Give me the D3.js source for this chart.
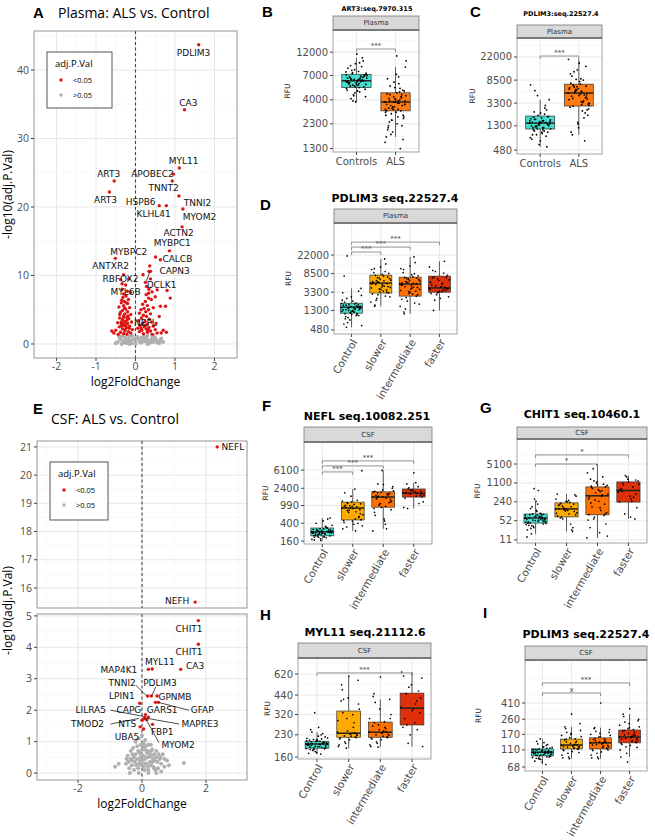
<!DOCTYPE html>
<html>
<head>
<meta charset='utf-8'>
<script src="https://d3js.org/d3.v7.min.js"></script>
<style>
body { margin: 0; background: #fff; }
text { font-family: "DejaVu Sans", sans-serif; }
</style>
</head>
<body>
<script>
// ---------- volcano data (log2FC, -log10 adj p) ----------
var aRed = [[1.6,43.7],[1.24,34.2],[1.11,25.7],[0.96,24.8],[0.93,23.8],[-0.54,23.8],[-0.66,22.2],[1.1,21.6],[0.6,20.2],[0.78,20.2],[1.2,19.7],[1.18,17.1],[0.86,13.6],[-0.51,12.5],[0.51,12.7],[0.63,12.3],
  [0.36,11.4],[0.34,10.6],[0.38,10.6],[0.19,10.1],[-0.3,10.1],[-0.38,9.4],[-0.17,9.5],[0.38,9.5],[0.25,9.0],[-0.34,8.8],[-0.25,8.6],[0.28,8.4],[0.34,8.0],[0.8,7.8],[-0.34,8.0],[-0.21,7.7],[-0.13,7.5],[0.33,7.4],[0.42,7.6],[0.27,7.2],[0.55,7.9],[0.88,6.7],[0.63,5.5],[0.76,5.5],[0.33,6.7],[0.25,6.2],[0.4,6.5],[0.5,6.9],[0.18,5.8],[0.3,5.6],[0.22,5.2],
  [-0.24,7.0],[-0.32,6.8],[-0.18,6.5],[-0.28,6.2],[-0.36,6.0],[-0.2,5.9],[-0.3,5.6],[-0.42,5.4],[-0.15,5.3],[-0.25,5.1],[-0.33,4.9],[-0.2,4.7],[-0.38,4.6],[-0.27,4.4],[-0.12,4.3],[-0.3,4.1],[-0.22,3.9],[-0.4,3.8],[-0.17,3.7],[-0.33,3.5],[-0.26,3.3],[-0.1,3.2],[-0.45,3.1],[-0.2,3.0],[-0.36,2.9],[-0.29,2.7],[-0.15,2.6],[-0.41,2.5],[-0.23,2.4],[-0.33,2.2],[-0.08,2.1],[-0.5,2.0],[-0.27,1.9],[-0.18,1.8],[-0.38,1.7],[-0.55,1.6],[-0.12,1.6],[-0.3,1.5],[-0.22,1.4],[-0.44,1.4],[-0.6,1.9],[-0.35,2.6],[-0.24,2.8],[-0.31,3.8],[-0.19,4.1],[-0.4,4.3],[-0.28,5.3],[-0.35,6.4],[-0.23,6.0],[-0.3,7.3],[-0.26,2.1],[-0.36,3.2],[-0.16,2.3],[-0.3,3.0],[-0.21,3.5],
  [0.1,4.5],[0.2,4.2],[0.28,4.0],[0.15,3.8],[0.35,3.6],[0.08,3.4],[0.24,3.3],[0.4,3.2],[0.18,3.0],[0.3,2.9],[0.12,2.7],[0.45,2.6],[0.22,2.5],[0.34,2.4],[0.06,2.3],[0.27,2.2],[0.5,2.1],[0.16,2.0],[0.38,1.9],[0.1,1.8],[0.3,1.7],[0.55,1.6],[0.2,1.5],[0.42,1.4],[0.65,1.6],[0.33,5.0],[0.45,5.3],[0.26,4.7],[0.38,4.4],[0.14,5.0],[0.6,4.0],[0.52,3.0],[0.7,2.0],[0.78,1.7],[0.25,2.7],[0.14,2.3],[0.32,2.0]];
var aGray = [[-0.45,0.3],[-0.38,0.6],[-0.3,0.2],[-0.25,0.9],[-0.2,0.4],[-0.15,1.1],[-0.1,0.1],[-0.05,0.7],[0.0,0.3],[0.05,1.0],[0.1,0.5],[0.15,0.2],[0.2,0.8],[0.25,0.4],[0.3,1.2],[0.35,0.1],[0.4,0.6],[0.45,0.3],[0.5,0.9],[0.55,0.2],[0.62,0.5],[0.7,0.3],[-0.33,1.1],[-0.4,0.9],[-0.22,0.1],[-0.12,0.5],[0.02,0.9],[0.12,0.2],[0.22,1.1],[0.32,0.5],[0.42,0.9],[0.52,0.6],[-0.28,0.5],[-0.18,0.7],[-0.08,1.2],[0.08,0.7],[0.18,0.4],[0.28,0.8],[0.38,0.3],[0.48,0.5],[-0.5,0.1],[0.6,0.1],[0.65,0.8],[-0.35,0.0],[0.0,0.0],[0.3,0.0],[-0.15,0.0],[0.15,0.9],[-0.42,1.2],[0.46,1.3]];
var aLabels = [["PDLIM3",1.47,42.5],["CA3",1.34,35.2],["MYL11",1.22,26.7],["APOBEC2",0.43,24.8],["TNNT2",0.71,22.8],["ART3",-0.68,24.8],["ART3",-0.76,21.0],["HSPB6",0.13,20.7],["TNNI2",1.57,20.6],["KLHL41",0.46,19.0],["MYOM2",1.62,18.5],["ACTN2",1.09,16.2],["MYBPC1",0.93,14.7],["MYBPC2",-0.17,13.4],["CALCB",1.06,12.4],["ANTXR2",-0.63,11.4],["CAPN3",0.99,10.7],["RBFOX2",-0.38,9.5],["DCLK1",0.66,8.6],["MYL6B",-0.25,7.6],["NEFL",0.25,3.1]];
var aSegs = [[0.28,9.2,0.36,10.55]];
var aXTicks = [-2,-1,0,1,2];
var aYTicks = [0,10,20,30,40];

var eRed = [[2.35,21.0],[1.66,15.5],[1.76,4.85],[1.76,4.1],[1.21,3.3],[0.2,3.3],[0.32,3.31],[0.18,2.45],[0.29,2.45],[0.47,2.45],[-0.07,2.22],[0.42,2.25],[0.51,2.25],[0.11,1.86],[0.1,1.75],[0.15,1.7],[0.2,1.78],[0.05,1.72],[0.0,1.68],[-0.06,1.47],[0.05,1.4],[0.33,1.55]];
var eGray = [[-0.84,0.2],[-0.73,0.3],[1.31,0.32],[-0.5,0.3],[-0.45,0.55],[-0.4,0.15],[-0.35,0.7],[-0.3,0.4],[-0.25,0.1],[-0.2,0.6],[-0.15,0.85],[-0.1,0.3],[-0.05,0.5],[0.0,0.75],[0.05,0.2],[0.1,0.45],[0.15,0.65],[0.2,0.1],[0.25,0.35],[0.3,0.55],[0.35,0.2],[0.4,0.4],[0.45,0.7],[0.5,0.15],[0.55,0.45],[0.6,0.3],[0.65,0.6],[0.7,0.2],[0.78,0.4],[0.84,0.25],[-0.42,0.35],[-0.28,0.8],[-0.18,0.25],[-0.08,0.65],[0.02,0.4],[0.12,0.85],[0.22,0.5],[0.32,0.75],[0.42,0.1],[0.52,0.6],[-0.2,1.0],[-0.1,1.1],[0.0,1.2],[0.1,1.05],[0.05,0.95],[-0.38,0.0],[-0.1,0.0],[0.2,0.0],[0.45,0.0],[0.6,0.05],[-0.25,0.5],[0.28,0.9],[0.38,0.6],[-0.32,0.25],[0.15,0.3],
  [-0.22,0.35],[-0.12,0.15],[-0.02,0.25],[0.08,0.1],[0.18,0.2],[0.28,0.25],[0.38,0.15],[0.48,0.35],[-0.16,0.45],[-0.06,0.4],[0.04,0.55],[0.14,0.5],[0.24,0.6],[0.34,0.45],[-0.12,0.7],[-0.02,0.6],[0.08,0.75],[0.18,0.7],[0.28,0.7],[-0.04,0.9],[0.06,0.85],[0.2,0.9],[-0.3,0.6],[0.44,0.5],[0.58,0.5],[-0.48,0.45],[0.7,0.45],[0.1,0.3],[-0.36,0.45],[0.32,0.35]];
var eLabels = [["NEFL",2.84,21.0],["NEFH",1.1,15.55],["CHIT1",1.47,4.59],["CHIT1",1.47,3.85],["CA3",1.66,3.41],["MYL11",0.56,3.54],["MAP4K1",-0.72,3.28],["TNNI2",-0.62,2.87],["PDLIM3",0.56,2.87],["LPIN1",-0.63,2.45],["GPNMB",1.03,2.42],["LILRA5",-1.6,2.0],["CAPG",-0.41,2.0],["GARS1",0.63,2.0],["GFAP",1.88,2.0],["TMOD2",-1.7,1.56],["NTS",-0.46,1.56],["MAPRE3",1.81,1.56],["FBP1",0.63,1.31],["UBA5",-0.47,1.15],["MYOM2",1.13,0.89]];
var eSegs = [[-0.2,2.8,0.17,2.43],[0.43,2.74,0.3,2.45],[-0.98,2.0,0.11,1.79],[1.47,2.0,0.51,2.25],[1.16,1.56,0.17,1.74],[-0.98,1.56,-0.09,1.74],[0.53,0.97,0.11,1.74]];
var eXTicks = [-2,0,2];
var eYTicksTop = [16,17,18,19,20,21];
var eYTicksBot = [0,1,2,3,4,5];

// ---------- box plot data (RFU) ----------
var catsTwo = ["Controls","ALS"];
var catsFour = ["Control","slower","intermediate","faster"];

var bTicks = [1300,2300,4000,7000,12000];
var bBox = [[5300,6200,7200],[3100,3800,4700]];
var bCtrl = [6200,5800,6500,7000,5400,6100,6900,5600,7400,6300,5900,6700,8000,5200,4800,6400,7100,5700,6000,8600,4500,6600,7700,5500,6200,9200,5000,6800,7300,4300,6100,5800,10500,6400,7600,5300,4100,6900,5900,8300,6300,3900,7200,5600,6700,9800,4700,6000,6500,7900,5100,11500,5800,6200,4400,7000,6400,8800,5400,3800,6600,6100,7500,5700,4900,6800,6300,5500,7100,9400];
var bAls = [3800,3200,4500,2800,4100,3600,5200,2500,3900,4700,3300,2200,4300,3000,5800,3500,2700,4000,6500,3100,1900,4400,3700,2400,5000,3400,1700,4800,2900,3600,7200,2100,4200,3200,1500,3900,5500,2600,3800,4600,1300,3300,8500,2300,4100,3500,6000,2800,3700,1800,4900,3000,2000,4300,3400,9800,2700,3900,1600,5300,3100,4000,2500,3600,11000,2200,4500,3800,3200,6800];
var bSig = [[0,1,12900,"***"]];

var cTicks = [480,1300,3300,8500,22000];
var cBox = [[1140,1455,1940],[2930,5000,7200]];
var cCtrl = [1450,1200,1700,1000,1550,1300,2100,900,1400,1800,1100,2500,1350,800,1600,1250,1900,700,1500,3000,1150,1650,950,2300,1400,600,1750,1050,1300,3800,1500,1200,850,2000,1600,1100,5500,1350,1450,750,2700,1250,1550,1000,1850,550,1400,7000,1200,1700,1300,2200,900,1500,4500,1150,1600,1050,1900,1350];
var cAls = [5000,3500,7000,4200,6000,2800,8500,5500,3200,4800,10000,2200,6500,3800,5200,12000,2500,4500,7500,1800,5800,3000,9000,4000,15000,1500,6200,3400,5100,2000,8000,4400,700,5600,20000,3100,6800,4700,1200,11000,3600,5300,2600,7200,900,4100,13000,5900,2400,6400,3900,17000,1000,4600,8800,3300,5400,2900,6600,1400];
var cSig = [[0,1,22900,"***"]];

var dTicks = [480,1300,3300,8500,22000];
var dBox = [[1130,1540,1880],[3160,5250,7900],[2700,5000,7100],[3300,4100,7500]];
var dCtrl = [1500,1200,1700,1000,1600,1350,1900,900,1450,2100,1100,1550,800,1250,1800,2400,1400,1050,650,1650,1300,2800,1500,950,1750,1150,3200,1400,700,1600,1250,2000,1050,1500,1850,1200,550,1350,2600,1700,1000,1450,4000,1300,850,1600,1150,2200,1400,21000,1550,1250,7500,1100,1750,600,1500,1350,3500,1200];
var dSlow = [5200,3500,7800,4400,6300,3000,9500,5600,2600,4800,11000,3300,6800,4100,5900,2200,8600,3800,5300,14000,2900,6100,4600,1700,7200,3400,5000,18000,2400,6600,4300,9000,3700,5500,2000,7500,4900,3200,12000,5700,2700,6900,4200,8200,1600,5100,3900,10500,4500,6000];
var dInt = [5000,3000,7000,4200,6000,2300,8500,5400,1800,4600,10500,2700,6400,3600,5200,1400,7600,3300,4800,15000,2100,5800,4100,1100,6800,3100,4700,20000,2500,6200,3900,9000,3500,5500,1600,7300,4400,2900,12500,5300,1900,6600,3800,8000,1200,5100,3400,11000,4300,5700];
var dFast = [4100,3400,7200,3900,6000,3100,8800,4600,2600,4300,10000,3600,6500,3800,5200,2200,7800,3500,4800,16000,2900,6200,4400,1300,7000,3300,5500,3700,9500,4000,2400,6800,4200,3200,12000,5000];
var dSig = [[0,1,25600,"***"],[0,2,33000,"***"],[0,3,42600,"***"]];

var fTicks = [160,400,990,2400,6100];
var fBox = [[210,257,313],[473,870,1180],[910,1530,2000],[1530,1870,2310]];
var fCtrl = [260,230,290,210,275,245,320,195,250,300,220,265,180,240,340,205,280,255,170,310,235,265,200,400,250,225,290,190,270,245,450,215,260,300,175,235,280,520,250,210,265,230,360,200,245,285,165,255,330,220,270,240,195,500,260];
var fSlow = [870,500,1150,650,950,420,1300,780,350,1050,900,560,1600,300,720,1100,480,850,1900,400,980,620,2300,330,800,1200,460,930,700,5900,380,1000,540,880,1250,270,760,1080,440,960];
var fInt = [1550,950,1900,1200,2200,700,1700,1050,2600,450,1400,1850,900,2000,300,1600,1250,2900,600,1750,1100,2100,380,1500,1350,6000,850,1800,1000,2400,500,1650,1150,1950,270,1450,3000,800,1550,2050];
var fFast = [1900,1600,2300,1750,2100,1450,2600,1800,1200,2000,3000,1650,2200,900,1850,2450,1550,5300,1950,1100,2150,1700,3200,850,2050];
var fSig = [[0,1,5540,"***"],[0,2,7540,"***"],[0,3,9740,"***"]];

var gTicks = [11,52,240,1100,5100];
var gBox = [[43,65,90],[71,135,220],[84,390,800],[235,600,1200]];
var gCtrl = [65,50,85,40,72,58,95,35,62,110,45,68,30,80,55,140,48,75,25,60,90,42,200,66,52,300,38,70,18,57,120,47,78,33,64,600,44,88,53,14,69,160,49,82,36,61,700,46,74,28,58,250,43,92,55];
var gSlow = [135,90,210,110,250,75,160,60,380,120,190,30,140,95,230,70,420,130,180,25,150,100,270,65,200,115,450,40,170,85,240,140,22,125,300];
var gInt = [400,150,750,90,1200,300,600,60,900,250,1500,80,500,2500,120,700,40,950,350,1800,70,450,20,850,200,1100,55,380,3500,100,650,30,1000,280,13,550,160,800,4800,85,420,1300,15,600,220];
var gFast = [600,300,1100,450,1500,240,800,90,1300,380,700,60,1800,520,250,950,150,1200,650,350,2000,1000,70,560,1400];
var gSig = [[0,2,5100,"*"],[0,3,10600,"*"]];

var hTicks = [160,230,320,440,620];
var hBox = [[185,198,207],[221,236,339],[221,240,283],[270,355,454]];
var hCtrl = [198,190,205,185,210,195,215,180,200,225,188,203,175,208,196,240,192,212,170,201,186,218,197,250,183,206,194,230,178,202,189,211,199,330,184,207,193,222,172,200,187,213,196,260,181,204,191,217,168,199,186,209,195,235,182];
var hSlow = [240,225,330,230,420,215,260,205,380,232,520,222,300,190,236,410,228,600,218,280,200,350,234,480,220,245,195,320,226,560,212,400,238,185,290];
var hInt = [240,225,280,232,350,218,260,205,300,236,430,222,270,195,245,390,228,590,215,255,200,320,238,450,220,250,190,285,230,410,212,265,242,188,300];
var hFast = [360,280,450,330,520,260,400,200,580,350,300,470,230,640,380,270,420,340,600,250,500,190];
var hSig = [[0,3,631,"***"]];

var iTicks = [68,110,170,260,410];
var iBox = [[93,103,113],[113,126,149],[113,134,154],[134,158,192]];
var iCtrl = [103,98,110,92,106,100,115,88,104,120,95,108,84,112,101,130,97,109,80,105,93,118,102,140,90,107,99,125,86,104,96,111,100,150,89,106,94,116,78,103,91,113,98,135,87,105,95,110,73,101,92,119,100,128,85];
var iSlow = [126,115,148,120,170,110,135,100,190,122,210,113,155,95,128,180,118,300,108,140,90,160,124,200,112,132,88,150,119,230,105,145,127,86,165,116,138,102,175,121];
var iInt = [134,118,152,125,175,112,140,100,195,130,200,115,158,95,136,185,120,410,108,145,90,165,132,205,114,138,88,150,128,180,104,147,135,86,170,122,142,110,160,126];
var iFast = [158,140,190,150,230,132,170,120,260,155,300,138,200,110,162,240,145,350,128,180,100,210,160,280,135,175,90,195,152,250,125,185,165,78,220,142,168,118,205,148];
var iSig = [[0,2,543,"x"],[0,3,720,"***"]];

// ---------- drawing ----------
var width = 655, height = 840;
var svg = d3.select('body').append('svg').attr('width', width).attr('height', height);
var TICKCOL = '#4d4d4d';
var colTwo = ['#40E0D0', '#FF7A10'];
var colFour = ['#40E0D0', '#FFAA00', '#FF7000', '#E0300A'];
var clipN = 0;

function mids(t) {
  var s = t[1] - t[0], a = [t[0] - s / 2];
  for (var i = 0; i < t.length - 1; i++) a.push((t[i] + t[i + 1]) / 2);
  a.push(t[t.length - 1] + s / 2);
  return a;
}
function clip(x, y, w, h) {
  var id = 'clp' + (clipN++);
  svg.append('clipPath').attr('id', id).append('rect').attr('x', x).attr('y', y).attr('width', w).attr('height', h);
  return 'url(#' + id + ')';
}
function letter(s, x, y) {
  svg.append('text').attr('x', x).attr('y', y).text(s)
    .style('font-family', '"Liberation Sans", Arial, sans-serif').style('font-weight', 'bold').style('font-size', '15px');
}

function volcano(o) {
  var x = d3.scaleLinear().domain(o.xDomain).range([o.x0, o.x1]);
  o.panels.forEach(function(p, pi) {
    var y = d3.scaleLinear().domain(p.yDomain).range([p.y1, p.y0]);
    var inP = function(d) { return d[1] >= p.yDomain[0] && d[1] <= p.yDomain[1]; };
    svg.append('rect').attr('x', o.x0).attr('y', p.y0).attr('width', o.x1 - o.x0).attr('height', p.y1 - p.y0).attr('fill', '#fff');
    var g = svg.append('g').attr('clip-path', clip(o.x0, p.y0, o.x1 - o.x0, p.y1 - p.y0));
    mids(o.xTicks).forEach(function(v) {
      g.append('line').attr('x1', x(v)).attr('x2', x(v)).attr('y1', p.y0).attr('y2', p.y1).attr('stroke', '#f3f3f3').attr('stroke-width', 0.6);
    });
    mids(p.yTicks).forEach(function(v) {
      g.append('line').attr('x1', o.x0).attr('x2', o.x1).attr('y1', y(v)).attr('y2', y(v)).attr('stroke', '#f3f3f3').attr('stroke-width', 0.6);
    });
    o.xTicks.forEach(function(v) {
      g.append('line').attr('x1', x(v)).attr('x2', x(v)).attr('y1', p.y0).attr('y2', p.y1).attr('stroke', '#e4e4e4').attr('stroke-width', 0.9);
    });
    p.yTicks.forEach(function(v) {
      g.append('line').attr('x1', o.x0).attr('x2', o.x1).attr('y1', y(v)).attr('y2', y(v)).attr('stroke', '#e4e4e4').attr('stroke-width', 0.9);
    });
    g.append('line').attr('x1', x(0)).attr('x2', x(0)).attr('y1', p.y0).attr('y2', p.y1)
      .attr('stroke', '#444').attr('stroke-width', 1.1).attr('stroke-dasharray', '3,2.5');
    g.selectAll('.gp').data(o.gray.filter(inP)).enter().append('circle')
      .attr('cx', function(d) { return x(d[0]); }).attr('cy', function(d) { return y(d[1]); })
      .attr('r', 2).attr('fill', '#b0b0b0');
    g.selectAll('.rp').data(o.red.filter(inP)).enter().append('circle')
      .attr('cx', function(d) { return x(d[0]); }).attr('cy', function(d) { return y(d[1]); })
      .attr('r', 1.7).attr('fill', '#dd1515');
    o.segs.filter(function(s) { return s[1] >= p.yDomain[0] && s[1] <= p.yDomain[1]; }).forEach(function(s) {
      g.append('line').attr('x1', x(s[0])).attr('y1', y(s[1])).attr('x2', x(s[2])).attr('y2', y(s[3]))
        .attr('stroke', '#222').attr('stroke-width', 0.8);
    });
    g.selectAll('.lb').data(o.labels.filter(function(d) { return d[2] >= p.yDomain[0] && d[2] <= p.yDomain[1]; }))
      .enter().append('text')
      .attr('x', function(d) { return x(d[1]); }).attr('y', function(d) { return y(d[2]); })
      .attr('dy', '0.35em').attr('text-anchor', 'middle')
      .style('font-size', '9px').attr('fill', '#111').text(function(d) { return d[0]; });
    svg.append('rect').attr('x', o.x0).attr('y', p.y0).attr('width', o.x1 - o.x0).attr('height', p.y1 - p.y0)
      .attr('fill', 'none').attr('stroke', '#8a8a8a').attr('stroke-width', 0.9);
    p.yTicks.forEach(function(v) {
      svg.append('line').attr('x1', o.x0 - 3).attr('x2', o.x0).attr('y1', y(v)).attr('y2', y(v)).attr('stroke', '#444');
      svg.append('text').attr('x', o.x0 - 5).attr('y', y(v)).attr('dy', '0.35em').attr('text-anchor', 'end')
        .style('font-family', '"Open Sans", sans-serif').style('font-size', '10.5px').attr('fill', TICKCOL).text(v);
    });
    if (pi === o.panels.length - 1) {
      o.xTicks.forEach(function(v) {
        svg.append('line').attr('x1', x(v)).attr('x2', x(v)).attr('y1', p.y1).attr('y2', p.y1 + 3).attr('stroke', '#444');
        svg.append('text').attr('x', x(v)).attr('y', p.y1 + 12).attr('text-anchor', 'middle')
          .style('font-family', '"Open Sans", sans-serif').style('font-size', '10.5px').attr('fill', TICKCOL).text(v);
      });
      svg.append('text').attr('x', (o.x0 + o.x1) / 2).attr('y', p.y1 + 28).attr('text-anchor', 'middle')
        .style('font-family', '"Open Sans", sans-serif').style('font-size', '12px').text('log2FoldChange');
    }
  });
  var top = o.panels[0].y0, bot = o.panels[o.panels.length - 1].y1;
  svg.append('text').attr('transform', 'translate(' + o.yTitleX + ',' + ((top + bot) / 2) + ') rotate(-90)')
    .attr('text-anchor', 'middle').style('font-family', '"Open Sans", sans-serif').style('font-size', '12px').text('-log10(adj.P.Val)');
  svg.append('text').attr('x', o.titleX).attr('y', o.titleY)
    .style('font-family', '"Open Sans", sans-serif').style('font-size', '14px').text(o.title);
  // legend
  var L = o.legend;
  svg.append('rect').attr('x', L.x).attr('y', L.y).attr('width', L.w).attr('height', L.h)
    .attr('fill', '#fff').attr('stroke', '#555').attr('stroke-width', 1);
  svg.append('text').attr('x', L.x + 8).attr('y', L.y + 15).style('font-family', '"Open Sans", sans-serif').style('font-size', '9.5px').text('adj.P.Val');
  [['<0.05', '#dd1515', 1.7], ['>0.05', '#b0b0b0', 1.7]].forEach(function(e, k) {
    var yy = L.y + 28 + k * 15;
    svg.append('circle').attr('cx', L.x + 14).attr('cy', yy).attr('r', e[2]).attr('fill', e[1]);
    svg.append('text').attr('x', L.x + 26).attr('y', yy).attr('dy', '0.35em')
      .style('font-family', '"Open Sans", sans-serif').style('font-size', '7.5px').text(e[0]);
  });
}

function boxPanel(o) {
  var n = o.cats.length;
  var x = d3.scaleLinear().domain([0.4, n + 0.6]).range([o.x0, o.x1]);
  var y = d3.scaleLog().domain(o.domain).range([o.bottom, o.stripBot]);
  var u = x(2) - x(1);
  var ph = o.bottom - o.stripBot, pw = o.x1 - o.x0;
  svg.append('rect').attr('x', o.x0).attr('y', o.stripBot).attr('width', pw).attr('height', ph).attr('fill', '#fff');
  var g = svg.append('g').attr('clip-path', clip(o.x0, o.stripBot, pw, ph));
  var t = o.ticks, minor = [];
  minor.push(t[0] * t[0] / Math.sqrt(t[0] * t[1]));
  for (var i = 0; i < t.length - 1; i++) minor.push(Math.sqrt(t[i] * t[i + 1]));
  minor.push(t[t.length - 1] * Math.sqrt(t[t.length - 1] / t[t.length - 2]));
  minor.push(t[t.length - 1] * t[t.length - 1] / t[t.length - 2] * Math.sqrt(t[t.length - 1] / t[t.length - 2]));
  minor.forEach(function(v) {
    g.append('line').attr('x1', o.x0).attr('x2', o.x1).attr('y1', y(v)).attr('y2', y(v)).attr('stroke', '#f3f3f3').attr('stroke-width', 0.6);
  });
  t.forEach(function(v) {
    g.append('line').attr('x1', o.x0).attr('x2', o.x1).attr('y1', y(v)).attr('y2', y(v)).attr('stroke', '#e6e6e6').attr('stroke-width', 0.9);
  });
  o.cats.forEach(function(c, k) {
    g.append('line').attr('x1', x(k + 1)).attr('x2', x(k + 1)).attr('y1', o.stripBot).attr('y2', o.bottom).attr('stroke', '#e6e6e6').attr('stroke-width', 0.9);
  });
  // boxes
  o.box.forEach(function(b, k) {
    var cx = x(k + 1), bw = 0.75 * u;
    var lq = Math.log10(b[0]), uq = Math.log10(b[2]), iqr = uq - lq;
    var vals = o.pts[k];
    var lo = d3.min(vals.filter(function(v) { return Math.log10(v) >= lq - 1.5 * iqr; }));
    var hi = d3.max(vals.filter(function(v) { return Math.log10(v) <= uq + 1.5 * iqr; }));
    g.append('line').attr('x1', cx).attr('x2', cx).attr('y1', y(Math.min(lo, b[0]))).attr('y2', y(b[0])).attr('stroke', '#333').attr('stroke-width', 0.8);
    g.append('line').attr('x1', cx).attr('x2', cx).attr('y1', y(b[2])).attr('y2', y(Math.max(hi, b[2]))).attr('stroke', '#333').attr('stroke-width', 0.8);
    g.append('rect').attr('x', cx - bw / 2).attr('y', y(b[2])).attr('width', bw).attr('height', y(b[0]) - y(b[2]))
      .attr('fill', o.colors[k]).attr('stroke', '#333').attr('stroke-width', 0.7);
    g.append('line').attr('x1', cx - bw / 2).attr('x2', cx + bw / 2).attr('y1', y(b[1])).attr('y2', y(b[1])).attr('stroke', '#222').attr('stroke-width', 1.5);
  });
  // jittered points
  o.pts.forEach(function(vals, k) {
    g.selectAll('.p' + k).data(vals).enter().append('circle')
      .attr('cx', function(d, i) { return x(k + 1) + (((i * 0.618034) % 1) - 0.5) * o.jitter * u; })
      .attr('cy', function(d) { return y(d); })
      .attr('r', o.pr).attr('fill', '#000');
  });
  // significance brackets
  o.sig.forEach(function(s) {
    var xa = x(s[0] + 1), xb = x(s[1] + 1), yy = y(s[2]);
    svg.append('path').attr('d', 'M' + xa + ',' + (yy + 3) + 'V' + yy + 'H' + xb + 'V' + (yy + 3))
      .attr('fill', 'none').attr('stroke', '#777').attr('stroke-width', 0.8);
    svg.append('text').attr('x', (xa + xb) / 2).attr('y', yy - 1).attr('text-anchor', 'middle')
      .style('font-size', '7px').attr('fill', '#444').text(s[3]);
  });
  svg.append('rect').attr('x', o.x0).attr('y', o.stripBot).attr('width', pw).attr('height', ph)
    .attr('fill', 'none').attr('stroke', '#999').attr('stroke-width', 0.9);
  svg.append('rect').attr('x', o.x0).attr('y', o.stripTop).attr('width', pw).attr('height', o.stripBot - o.stripTop)
    .attr('fill', '#d9d9d9').attr('stroke', '#777').attr('stroke-width', 0.8);
  svg.append('line').attr('x1', o.x0).attr('x2', o.x1).attr('y1', o.stripBot).attr('y2', o.stripBot).attr('stroke', '#444').attr('stroke-width', 1);
  svg.append('text').attr('x', (o.x0 + o.x1) / 2).attr('y', (o.stripTop + o.stripBot) / 2).attr('dy', '0.35em')
    .attr('text-anchor', 'middle').style('font-size', '7px').attr('fill', '#333').text(o.strip);
  t.forEach(function(v) {
    svg.append('line').attr('x1', o.x0 - 3).attr('x2', o.x0).attr('y1', y(v)).attr('y2', y(v)).attr('stroke', '#444');
    svg.append('text').attr('x', o.x0 - 5).attr('y', y(v)).attr('dy', '0.35em').attr('text-anchor', 'end')
      .style('font-size', '10px').attr('fill', TICKCOL).text(v);
  });
  o.cats.forEach(function(c, k) {
    var cx = x(k + 1);
    svg.append('line').attr('x1', cx).attr('x2', cx).attr('y1', o.bottom).attr('y2', o.bottom + 3).attr('stroke', '#444');
    if (o.rotate) {
      svg.append('text').attr('transform', 'translate(' + (cx + 3) + ',' + (o.bottom + 6) + ') rotate(-60)')
        .attr('dy', '0.35em').attr('text-anchor', 'end').style('font-size', '10.5px').attr('fill', TICKCOL).text(c);
    } else {
      svg.append('text').attr('x', cx).attr('y', o.bottom + 13).attr('text-anchor', 'middle')
        .style('font-size', '10px').attr('fill', TICKCOL).text(c);
    }
  });
  svg.append('text').attr('transform', 'translate(' + o.rfuX + ',' + ((o.stripBot + o.bottom) / 2) + ') rotate(-90)')
    .attr('text-anchor', 'middle').attr('dy', '0.35em').style('font-size', '7.5px').attr('fill', '#222').text('RFU');
  svg.append('text').attr('x', o.titleX).attr('y', o.titleY).attr('text-anchor', 'middle')
    .style('font-size', o.titleSize + 'px').style('font-weight', 'bold').text(o.title);
  letter(o.letter[0], o.letter[1], o.letter[2]);
}

// ---------- panels ----------
volcano({
  x0: 34, x1: 237, xDomain: [-2.57, 2.57], xTicks: aXTicks,
  panels: [{ y0: 31, y1: 358, yDomain: [-2.05, 45.7], yTicks: aYTicks }],
  red: aRed, gray: aGray, labels: aLabels, segs: aSegs,
  title: 'Plasma: ALS vs. Control', titleX: 58, titleY: 18, yTitleX: 12,
  legend: { x: 47, y: 52, w: 65, h: 56 }
});
letter('A', 33, 18);

volcano({
  x0: 37, x1: 247, xDomain: [-3.28, 3.28], xTicks: eXTicks,
  panels: [{ y0: 441, y1: 608, yDomain: [15.29, 21.21], yTicks: eYTicksTop },
           { y0: 614, y1: 780, yDomain: [-0.22, 5.06], yTicks: eYTicksBot }],
  red: eRed, gray: eGray, labels: eLabels, segs: eSegs,
  title: 'CSF: ALS vs. Control', titleX: 51, titleY: 424, yTitleX: 12,
  legend: { x: 50, y: 462, w: 58, h: 58 }
});
letter('E', 33, 414);

boxPanel({ x0: 333, x1: 419, stripTop: 16, stripBot: 30, bottom: 152, domain: [1200, 20000], ticks: bTicks,
  cats: catsTwo, colors: colTwo, box: bBox, pts: [bCtrl, bAls], sig: bSig, jitter: 0.55, pr: 0.9,
  strip: 'Plasma', rfuX: 287, title: 'ART3:seq.7970.315', titleX: 377, titleY: 11, titleSize: 6.5, letter: ['B', 262, 17] });

boxPanel({ x0: 517, x1: 602, stripTop: 25, stripBot: 38, bottom: 154, domain: [408, 48000], ticks: cTicks,
  cats: catsTwo, colors: colTwo, box: cBox, pts: [cCtrl, cAls], sig: cSig, jitter: 0.55, pr: 0.9,
  strip: 'Plasma', rfuX: 472, title: 'PDLIM3:seq.22527.4', titleX: 561, titleY: 16, titleSize: 6.5, letter: ['C', 470, 17] });

boxPanel({ x0: 334, x1: 457, stripTop: 209, stripBot: 223, bottom: 334, domain: [390, 113000], ticks: dTicks,
  cats: catsFour, colors: colFour, box: dBox, pts: [dCtrl, dSlow, dInt, dFast], sig: dSig, jitter: 0.7, pr: 0.85, rotate: true,
  strip: 'Plasma', rfuX: 288, title: 'PDLIM3 seq.22527.4', titleX: 395, titleY: 202, titleSize: 11, letter: ['D', 260, 210] });

boxPanel({ x0: 304, x1: 432, stripTop: 427, stripBot: 442, bottom: 544, domain: [138, 25700], ticks: fTicks,
  cats: catsFour, colors: colFour, box: fBox, pts: [fCtrl, fSlow, fInt, fFast], sig: fSig, jitter: 0.7, pr: 0.85, rotate: true,
  strip: 'CSF', rfuX: 265, title: 'NEFL seq.10082.251', titleX: 367, titleY: 420, titleSize: 11, letter: ['F', 262, 411] });

boxPanel({ x0: 517, x1: 647, stripTop: 427, stripBot: 439, bottom: 543, domain: [8.6, 38500], ticks: gTicks,
  cats: catsFour, colors: colFour, box: gBox, pts: [gCtrl, gSlow, gInt, gFast], sig: gSig, jitter: 0.7, pr: 0.85, rotate: true,
  strip: 'CSF', rfuX: 477, title: 'CHIT1 seq.10460.1', titleX: 582, titleY: 418, titleSize: 11, letter: ['G', 480, 413] });

boxPanel({ x0: 298, x1: 431, stripTop: 643, stripBot: 658, bottom: 759, domain: [155, 805], ticks: hTicks,
  cats: catsFour, colors: colFour, box: hBox, pts: [hCtrl, hSlow, hInt, hFast], sig: hSig, jitter: 0.7, pr: 0.85, rotate: true,
  strip: 'CSF', rfuX: 267, title: 'MYL11 seq.21112.6', titleX: 365, titleY: 636, titleSize: 11, letter: ['H', 260, 620] });

boxPanel({ x0: 525, x1: 647, stripTop: 646, stripBot: 660, bottom: 771, domain: [60.8, 1371], ticks: iTicks,
  cats: catsFour, colors: colFour, box: iBox, pts: [iCtrl, iSlow, iInt, iFast], sig: iSig, jitter: 0.7, pr: 0.85, rotate: true,
  strip: 'CSF', rfuX: 478, title: 'PDLIM3 seq.22527.4', titleX: 586, titleY: 638, titleSize: 11, letter: ['I', 483, 618] });
</script>
</body>
</html>
